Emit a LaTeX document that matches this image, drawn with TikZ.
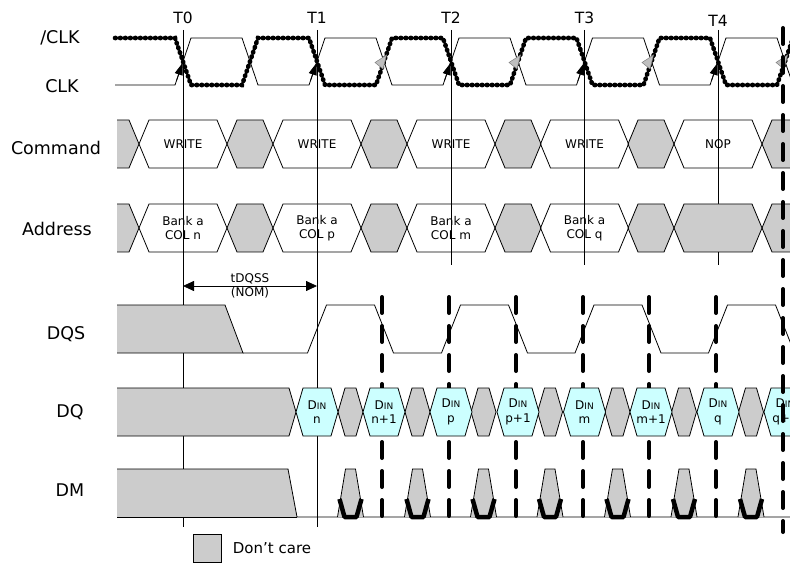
\documentclass[tikz,border=0pt]{standalone}
\usepackage{fontspec}
\setmainfont{DejaVu Sans}
\usetikzlibrary{arrows.meta,positioning}

\definecolor{dcgray}{RGB}{204,204,204}
\definecolor{dincyan}{RGB}{204,255,255}

\tikzset{
  wave/.style={line width=0.8pt},
  clkbar/.style={line width=4.6pt, line cap=round, dash pattern=on 0.8pt off 4.2pt},
  strobe/.style={line width=4pt, line cap=round, dash pattern=on 16pt off 13pt},
  dcare/.style={fill=dcgray, draw=black, line width=0.8pt},
  dval/.style={fill=dincyan, draw=black, line width=0.8pt},
  dmmark/.style={line width=4.5pt, line join=round},
  signame/.style={font=\fontsize{17.5}{18}\selectfont},
  tname/.style={font=\fontsize{15.5}{16}\selectfont},
  celltext/.style={font=\fontsize{12}{14.5}\selectfont, align=center, inner sep=0pt},
}
\newcommand{\din}{D{\fontsize{9}{9}\selectfont IN}}

\begin{document}
\begin{tikzpicture}[x=1pt, y=-1pt]
\useasboundingbox (0,0) rectangle (790,564);
\clip (0,0) rectangle (790,564);


\node[signame] (nclkb) at (60,38) {/CLK};
\node[signame] (nclk) at (62,86) {CLK};
\node[signame] (ncmd) at (56,148) {Command};
\node[signame] (naddr) at (57,229) {Address};
\node[signame] (ndqs) at (66,334) {DQS};
\node[signame] (ndq) at (70,412) {DQ};
\node[signame] (ndm) at (70,490) {DM};


\foreach \tx/\nx in {183/0, 317/1, 451/2, 584.5/3}
  \node[tname] (tl\nx) at (\tx,18) {T\nx};
\node[tname] (tl4) at (718,21) {T4};

\foreach \tx/\nx/\bx in {183/0/527, 317/1/527, 451/2/265, 584.5/3/265, 718/4/265} {
  \coordinate (ttop\nx) at (\tx,30);
  \coordinate (tbot\nx) at (\tx,\bx);
  \draw[wave] (ttop\nx) -- (tbot\nx);
}


\draw[wave] (115,85) \foreach \tx in {183,317,451,584.5,718} { -- (\tx-8,85) -- (\tx+8,38) -- (\tx+59,38) -- (\tx+75,85) };
\draw[clkbar] (115,38) \foreach \tx in {183,317,451,584.5,718} { -- (\tx-8,38) -- (\tx+8,85) -- (\tx+59,85) -- (\tx+75,38) };
\foreach \tx in {183,317,451,584.5,718}
  \draw[wave, -{Triangle[length=12pt,width=8pt]}] (\tx-6.6,81) -- (\tx-0.5,63);
\foreach \hx in {384,518,651,785}
  \draw[fill=gray!50, draw=gray, line width=0.5pt] (\hx-9,62.5) -- (\hx+2.5,55) -- (\hx-1,69) -- cycle;


\fill[dcgray] (117,120) -- (129,120) -- (139,144) -- (129,168) -- (117,168) -- cycle;
\draw[wave] (117,120) -- (129,120) -- (139,144) -- (129,168) -- (117,168);
\foreach \hx in {250,384,518,651,785}
  \draw[dcare] (\hx-23,144) -- (\hx-13,120) -- (\hx+13,120) -- (\hx+23,144) -- (\hx+13,168) -- (\hx-13,168) -- cycle;
\foreach \tx/\nx/\cx in {183/0/WRITE, 317/1/WRITE, 451/2/WRITE, 584.5/3/WRITE, 718/4/NOP} {
  \draw[wave] (\tx-44,144) -- (\tx-34,120) -- (\tx+34,120) -- (\tx+44,144) -- (\tx+34,168) -- (\tx-34,168) -- cycle;
  \node[celltext] (cmd\nx) at (\tx,144) {\cx};
}


\fill[dcgray] (117,204) -- (129,204) -- (139,228) -- (129,252) -- (117,252) -- cycle;
\draw[wave] (117,204) -- (129,204) -- (139,228) -- (129,252) -- (117,252);
\foreach \hx in {250,384,518,651,785}
  \draw[dcare] (\hx-23,228) -- (\hx-13,204) -- (\hx+13,204) -- (\hx+23,228) -- (\hx+13,252) -- (\hx-13,252) -- cycle;
\draw[dcare] (674,228) -- (684,204) -- (752,204) -- (762,228) -- (752,252) -- (684,252) -- cycle;
\foreach \tx/\nx/\cx in {183/0/n, 317/1/p, 451/2/m, 584.5/3/q} {
  \draw[wave] (\tx-44,228) -- (\tx-34,204) -- (\tx+34,204) -- (\tx+44,228) -- (\tx+34,252) -- (\tx-34,252) -- cycle;
  \node[celltext] (addr\nx) at (\tx,228) {Bank a\\COL \cx};
}


\coordinate (qs0) at (183,286);
\coordinate (qs1) at (317,286);
\draw[wave, {Triangle[length=11pt,width=10pt]}-{Triangle[length=11pt,width=10pt]}] (qs0) -- (qs1);
\node[celltext] (tdqss) at (250,286) {tDQSS\\(NOM)};


\fill[dcgray] (117,305) -- (225,305) -- (243,353) -- (117,353) -- cycle;
\draw[wave] (117,305) -- (225,305) -- (243,353) -- (117,353);
\draw[wave] (243,353) \foreach \tx in {317,451,584.5,718} { -- (\tx-9.5,353) -- (\tx+9.5,305) -- (\tx+57.5,305) -- (\tx+76.5,353) };

\foreach \xx in {382,449,516,583,649,716}
  \draw[strobe] (\xx,297) -- (\xx,528);


\fill[dcgray] (117,388) -- (289,388) -- (296,412) -- (289,436) -- (117,436) -- cycle;
\draw[wave] (117,388) -- (289,388) -- (296,412) -- (289,436) -- (117,436);
\foreach \gx in {350.5,417.5,483.5,550,617.5,684,751}
  \draw[dcare] (\gx-12.5,412) -- (\gx-5.5,388) -- (\gx+5.5,388) -- (\gx+12.5,412) -- (\gx+5.5,436) -- (\gx-5.5,436) -- cycle;
\foreach \cx/\lab/\nx in {317/n/0, 384/n+1/1, 451/p/2, 518/p+1/3, 584.5/m/4, 651/m+1/5, 718/q/6, 785/q+1/7} {
  \draw[dval] (\cx-21,412) -- (\cx-14,388) -- (\cx+14,388) -- (\cx+21,412) -- (\cx+14,436) -- (\cx-14,436) -- cycle;
  \node[celltext] (dq\nx) at (\cx,412) {\din\\\lab};
}


\fill[dcgray] (117,469) -- (288,469) -- (297,517) -- (117,517) -- cycle;
\draw[wave] (117,469) -- (288,469) -- (297,517) -- (790,517);
\draw[wave] (117,517) -- (297,517);
\foreach \gx in {350.5,417.5,483.5,550,617.5,684,751} {
  \draw[dcare] (\gx-13,517) -- (\gx-5,469) -- (\gx+5,469) -- (\gx+13,517);
  \draw[dmmark] (\gx-11,499) -- (\gx-6,517) -- (\gx+6,517) -- (\gx+11,499);
}


\node[dcare, minimum size=28pt, inner sep=0pt] (dcbox) at (207,548) {};
\node[font=\fontsize{15}{15}\selectfont, right=8pt of dcbox] (dctext) {Don't care};

\draw[strobe] (783,28) -- (783,532);

\end{tikzpicture}
\end{document}
